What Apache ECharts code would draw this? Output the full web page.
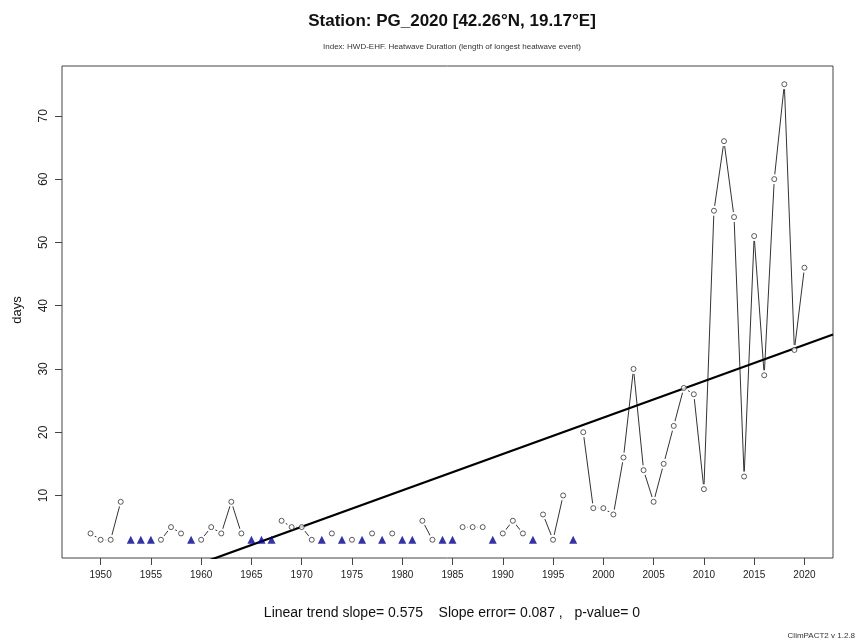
<!DOCTYPE html>
<html>
<head>
<meta charset="utf-8">
<script src="https://cdn.jsdelivr.net/npm/echarts@6/dist/echarts.min.js"></script>
<style>
html,body{margin:0;padding:0;background:#fff;}
#chart{width:866px;height:643px;}
</style>
</head>
<body>
<div id="chart"></div>
<script>
// ---- data ----
const years = [];
for (let y = 1949; y <= 2020; y++) years.push(y);
const hwdValues = [
  4, 3, 3, 9, null, null, null, 3, 5, 4,        // 1949-1958
  null, 3, 5, 4, 9, 4, null, null, null, 6,     // 1959-1968
  5, 5, 3, null, 4, null, 3, null, 4, null,     // 1969-1978
  4, null, null, 6, 3, null, null, 5, 5, 5,     // 1979-1988
  null, 4, 6, 4, null, 7, 3, 10, null, 20,      // 1989-1998
  8, 8, 7, 16, 30, 14, 9, 15, 21, 27,           // 1999-2008
  26, 11, 55, 66, 54, 13, 51, 29, 60, 75,       // 2009-2018
  33, 46                                        // 2019-2020
];
const noEventYears = [1953, 1954, 1955, 1959, 1965, 1966, 1967, 1972, 1974, 1976, 1978, 1980, 1981, 1984, 1985, 1989, 1993, 1997];
const noEventValues = [3, 3, 3, 3, 3, 3, 3, 3, 3, 3, 3, 3, 3, 3, 3, 3, 3, 3];
const xTickYears = [1950, 1955, 1960, 1965, 1970, 1975, 1980, 1985, 1990, 1995, 2000, 2005, 2010, 2015, 2020];
const yTickValues = [10, 20, 30, 40, 50, 60, 70];
const trendSlope = 0.575;
const trendAt2000 = 22.3;
const slopeError = 0.087;
const pValue = 0;

// ---- derived ----
const pts = years.map((y, i) => [y, hwdValues[i]]);
const validPts = pts.filter(p => p[1] !== null);
const triPts = noEventYears.map((y, i) => [y, noEventValues[i]]);
const allVals = hwdValues.filter(v => v !== null).concat(noEventValues);
const yLo = Math.min(...allVals), yHi = Math.max(...allVals);
const xLo = years[0], xHi = years[years.length - 1];
const xPad = (xHi - xLo) * 0.04, yPad = (yHi - yLo) * 0.04;
const xMin = xLo - xPad, xMax = xHi + xPad;
const yMin = yLo - yPad, yMax = yHi + yPad;
const trendPts = [xMin, xMax].map(x => [x, trendAt2000 + trendSlope * (x - 2000)]);

const FONT = 'Liberation Sans, Arial, sans-serif';
const chart = echarts.init(document.getElementById('chart'));
chart.setOption({
  animation: false,
  backgroundColor: '#fff',
  title: [
    { text: 'Station: PG_2020 [42.26°N, 19.17°E]', left: 447, top: 8, textAlign: 'center',
      textStyle: { fontFamily: FONT, fontSize: 17, fontWeight: 'bold', color: '#111' } },
    { text: 'Index: HWD-EHF. Heatwave Duration (length of longest heatwave event)', left: 447, top: 38, textAlign: 'center',
      textStyle: { fontFamily: FONT, fontSize: 8, fontWeight: 'normal', color: '#333' } },
    { text: 'Linear trend slope= ' + trendSlope + '    Slope error= ' + slopeError + ' ,   p-value= ' + pValue,
      left: 447, top: 601, textAlign: 'center',
      textStyle: { fontFamily: FONT, fontSize: 14, fontWeight: 'normal', color: '#111' } },
    { text: 'ClimPACT2 v 1.2.8', right: 6, top: 627,
      textStyle: { fontFamily: FONT, fontSize: 8, fontWeight: 'normal', color: '#333' } }
  ],
  graphic: [
    { type: 'text', x: 17, y: 310, rotation: Math.PI / 2,
      style: { text: 'days', font: '13px Liberation Sans, Arial, sans-serif', fill: '#111', textAlign: 'center', textVerticalAlign: 'middle' } }
  ],
  grid: { left: 62, right: 33, top: 66, bottom: 85, show: true, borderColor: '#444', borderWidth: 1, backgroundColor: 'transparent' },
  xAxis: {
    type: 'value', min: xMin, max: xMax,
    axisLine: { show: false },
    splitLine: { show: false },
    axisTick: { show: true, customValues: xTickYears, length: 7, lineStyle: { color: '#444' } },
    axisLabel: { customValues: xTickYears, margin: 12, fontFamily: FONT, fontSize: 10, color: '#222', formatter: v => String(Math.round(v)) }
  },
  yAxis: {
    type: 'value', min: yMin, max: yMax,
    axisLine: { show: false },
    splitLine: { show: false },
    axisTick: { show: true, customValues: yTickValues, length: 7, lineStyle: { color: '#444' } },
    axisLabel: { customValues: yTickValues, rotate: 90, margin: 12, fontFamily: FONT, fontSize: 12, color: '#222', formatter: v => String(Math.round(v)) }
  },
  series: [
    { type: 'line', data: pts, showSymbol: false, symbol: 'none', connectNulls: false, z: 2,
      lineStyle: { color: '#333', width: 1 } },
    { type: 'scatter', data: validPts, symbol: 'circle', symbolSize: 10, z: 3, silent: true,
      itemStyle: { color: '#fff', opacity: 1 } },
    { type: 'line', data: trendPts, showSymbol: false, symbol: 'none', z: 4, clip: true,
      lineStyle: { color: '#000', width: 2.2 } },
    { type: 'scatter', data: validPts, symbol: 'circle', symbolSize: 5, z: 5,
      itemStyle: { color: '#fff', borderColor: '#333', borderWidth: 1 } },
    { type: 'scatter', data: triPts, symbol: 'triangle', symbolSize: 8, z: 5,
      itemStyle: { color: '#00008f' } }
  ]
});
</script>
</body>
</html>
